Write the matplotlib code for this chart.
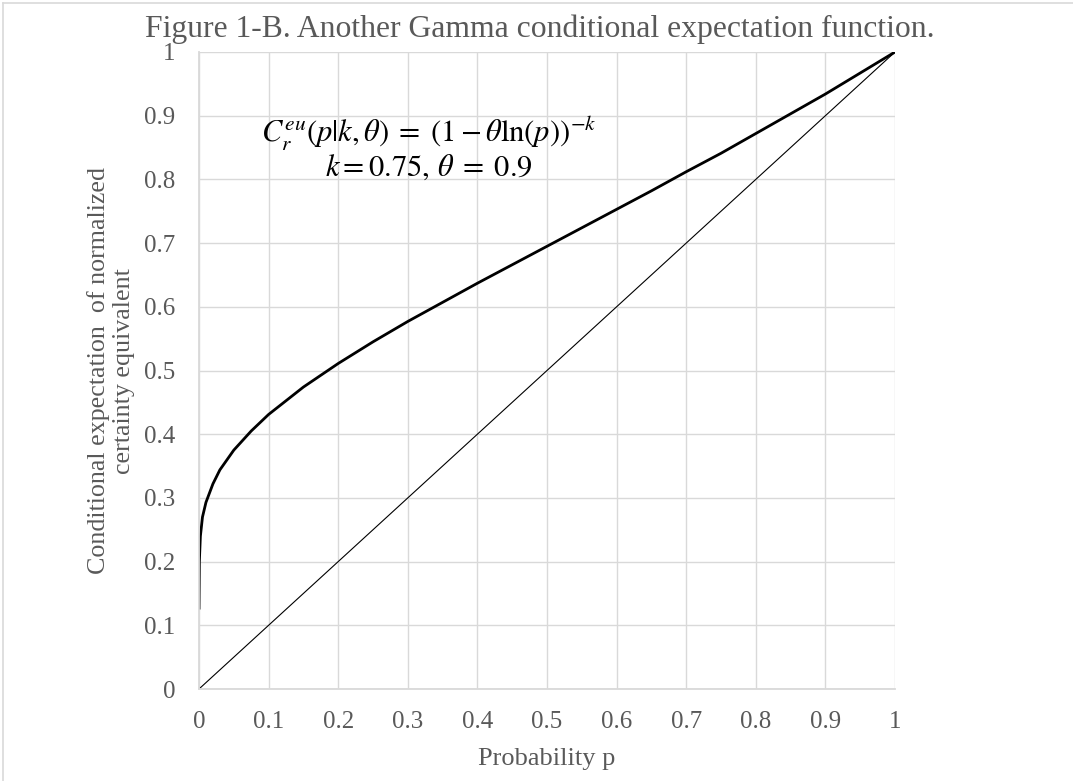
import matplotlib
matplotlib.use("Agg")
import matplotlib.pyplot as plt
from matplotlib.lines import Line2D

# valores
p = [0.0, 0.0005, 0.002, 0.005, 0.01, 0.02, 0.03, 0.05, 0.075, 0.1,
     0.15, 0.2, 0.25, 0.3, 0.35, 0.4, 0.45, 0.5, 0.55, 0.6,
     0.65, 0.7, 0.75, 0.8, 0.85, 0.9, 0.95, 1.0]
ce = [0.127, 0.20, 0.24, 0.27, 0.293, 0.322, 0.344, 0.375, 0.405, 0.431,
      0.474, 0.511, 0.545, 0.577, 0.607, 0.637, 0.666, 0.695, 0.724, 0.753,
      0.782, 0.812, 0.841, 0.872, 0.903, 0.934, 0.967, 1.0]
diag_x = [0.0, 1.0]
diag_y = [0.0, 1.0]
ticks = [0, 0.1, 0.2, 0.3, 0.4, 0.5, 0.6, 0.7, 0.8, 0.9, 1]
tick_labels = ["0", "0.1", "0.2", "0.3", "0.4", "0.5", "0.6", "0.7", "0.8", "0.9", "1"]

txt = "#595959"
grid = "#d9d9d9"
plt.rcParams["font.family"] = "Liberation Serif"
plt.rcParams["mathtext.fontset"] = "stix"

W, H = 1073, 781
fig = plt.figure(figsize=(W / 100, H / 100), dpi=100)
ax = fig.add_axes([199 / W, 1 - 689 / H, 696 / W, 637 / H])

ax.plot(diag_x, diag_y, color="black", lw=0.8)
ax.plot(p, ce, color="black", lw=2.0, solid_joinstyle="round")

ax.set_xlim(0, 1)
ax.set_ylim(0, 1)
ax.set_xticks(ticks)
ax.set_xticklabels(tick_labels)
ax.set_yticks(ticks)
ax.set_yticklabels(tick_labels)
ax.tick_params(length=0, labelsize=18, colors=txt)
ax.tick_params(axis="x", pad=16)
ax.tick_params(axis="y", pad=17)
ax.grid(True, color=grid, lw=1.0)
ax.set_axisbelow(True)
for s in ["top", "right"]:
    ax.spines[s].set_visible(False)
for s in ["left", "bottom"]:
    ax.spines[s].set_color(grid)
    ax.spines[s].set_linewidth(1.3)

ax.text(0.33, 0.873, r"$C_r^{eu}(p|k,\theta)\;=\;(1-\theta\ln(p))^{-k}$",
        fontsize=22, ha="center", va="center", color="black")
ax.text(0.33, 0.818, r"$k = 0.75,\,\theta\;=\;0.9$",
        fontsize=22, ha="center", va="center", color="black")

fig.text(540 / W, 1 - 37 / H, "Figure 1-B. Another Gamma conditional expectation function.",
         fontsize=22.8, color=txt, ha="center", va="baseline")
fig.text(547 / W, 1 - 765 / H, "Probability p", fontsize=19, color=txt,
         ha="center", va="baseline")
fig.text(111 / W, 1 - 371 / H, "Conditional expectation  of normalized\ncertainty equivalent",
         fontsize=18.7, color=txt, ha="center", va="center", rotation=90,
         multialignment="center", linespacing=1.2)

# borda do grafico (so esquerda e topo aparecem)
fig.add_artist(Line2D([3 / W, 3 / W], [0, 1 - 3 / H], transform=fig.transFigure, color=grid, lw=1.2))
fig.add_artist(Line2D([3 / W, 1], [1 - 3 / H, 1 - 3 / H], transform=fig.transFigure, color=grid, lw=1.2))

fig.savefig("out.png", dpi=100)
